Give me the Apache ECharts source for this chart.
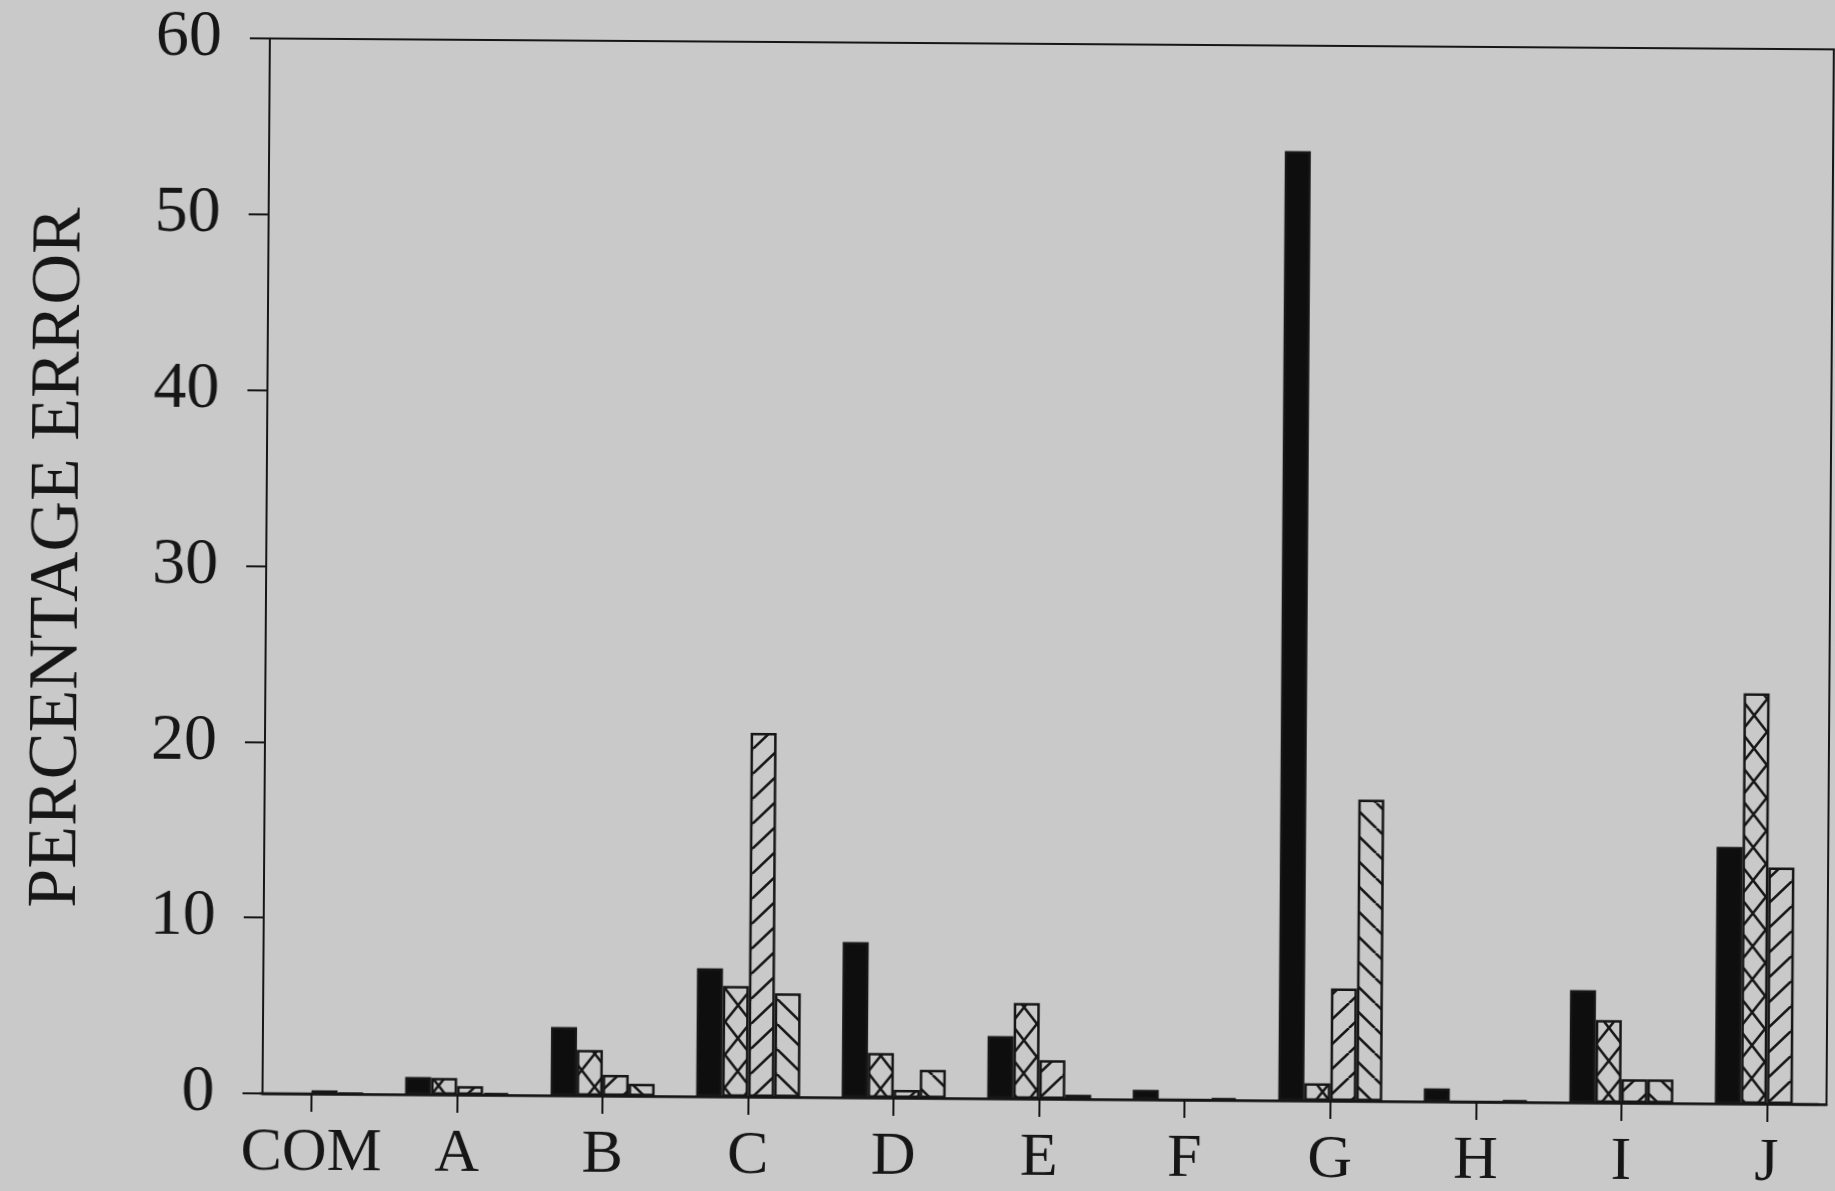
<!DOCTYPE html>
<html>
<head>
<meta charset="utf-8">
<script src="https://cdn.jsdelivr.net/npm/echarts@6/dist/echarts.min.js"></script>
<style>
  html, body { margin: 0; padding: 0; background: #c9c9c9; overflow: hidden; }
  #chart { width: 1835px; height: 1191px; transform: rotate(0.4deg); }
</style>
</head>
<body>
<div id="chart"></div>
<script>
// Categories along the x axis
const categories = ['COM', 'A', 'B', 'C', 'D', 'E', 'F', 'G', 'H', 'I', 'J'];

// Percentage error for each of the four methods (solid, cross-hatch, "/" hatch, "\" hatch)
const solidValues    = [0,    1.0,  3.9, 7.3, 8.85, 3.55, 0.55, 54.0,  0.75, 6.4,  14.6];
const crossValues    = [0,    0.95, 2.6, 6.3, 2.55, 5.45, 0,    1.0,   0,    4.7,  23.35];
const forwardValues  = [0.2,  0.5,  1.2, 20.7, 0.45, 2.2, 0,    6.4,   0,    1.35, 13.45];
const backwardValues = [0.05, 0.1,  0.7, 5.9, 1.6,  0.25, 0.1,  17.15, 0.1,  1.35, 0];

// Y axis ticks
const yTicks = [0, 10, 20, 30, 40, 50, 60];

const INK = '#161616';
const FONT = 'Liberation Serif';

// Hatch tile builder (w x h tile): '/' rising lines, '\' falling lines
function hatchTile(w, h, dirs) {
  const c = document.createElement('canvas');
  c.width = w;
  c.height = h;
  const g = c.getContext('2d');
  g.strokeStyle = INK;
  g.lineWidth = 2.6;
  g.beginPath();
  dirs.forEach(function (d) {
    [-w, 0, w].forEach(function (o) {
      if (d === '/') { g.moveTo(o, h); g.lineTo(o + w, 0); }
      else { g.moveTo(o, 0); g.lineTo(o + w, h); }
    });
  });
  g.stroke();
  return c;
}

const patterns = {
  cross: { image: hatchTile(26, 33, ['/', '\\']), repeat: 'repeat' },
  fwd:   { image: hatchTile(26, 25, ['/']), repeat: 'repeat' },
  back:  { image: hatchTile(26, 25, ['\\']), repeat: 'repeat' }
};

function toPoints(values) {
  return values.map(function (v, i) { return [i, v]; });
}

function barSeries(name, values, fill) {
  return {
    name: name,
    type: 'bar',
    barWidth: 26,
    barGap: '0%',
    data: toPoints(values),
    itemStyle: { color: fill, borderColor: INK, borderWidth: 2.5 },
    emphasis: { disabled: true },
    animation: false
  };
}

const catIndex = categories.map(function (_, i) { return i; });

const chart = echarts.init(document.getElementById('chart'), null, { renderer: 'canvas' });
chart.setOption({
  backgroundColor: '#c9c9c9',
  animation: false,
  grid: {
    left: 266, right: 5, top: 43, bottom: 93,
    show: true, borderColor: INK, borderWidth: 2, backgroundColor: 'transparent'
  },
  xAxis: {
    type: 'value',
    min: -0.337,
    max: 10.41,
    splitLine: { show: false },
    axisLine: { show: true, onZero: false, lineStyle: { color: INK, width: 2.5 } },
    axisTick: {
      show: true, customValues: catIndex, length: 18, inside: false,
      lineStyle: { color: INK, width: 2 }
    },
    axisLabel: {
      show: true, customValues: catIndex, margin: 29,
      color: INK, fontFamily: FONT, fontSize: 62,
      formatter: function (v) { return categories[Math.round(v)]; }
    }
  },
  yAxis: {
    type: 'value',
    min: yTicks[0],
    max: yTicks[yTicks.length - 1],
    interval: 10,
    name: 'PERCENTAGE ERROR',
    nameLocation: 'middle',
    nameGap: 172,
    nameTextStyle: { color: INK, fontFamily: FONT, fontSize: 70, padding: [0, 0, 0, 14] },
    splitLine: { show: false },
    axisLine: { show: true, onZero: false, lineStyle: { color: INK, width: 2 } },
    axisTick: { show: true, length: 20, inside: false, lineStyle: { color: INK, width: 2 } },
    axisLabel: { color: INK, fontFamily: FONT, fontSize: 66, margin: 48 }
  },
  series: [
    barSeries('solid', solidValues, '#0e0e0e'),
    barSeries('cross', crossValues, patterns.cross),
    barSeries('forward', forwardValues, patterns.fwd),
    barSeries('backward', backwardValues, patterns.back)
  ]
});
</script>
</body>
</html>
